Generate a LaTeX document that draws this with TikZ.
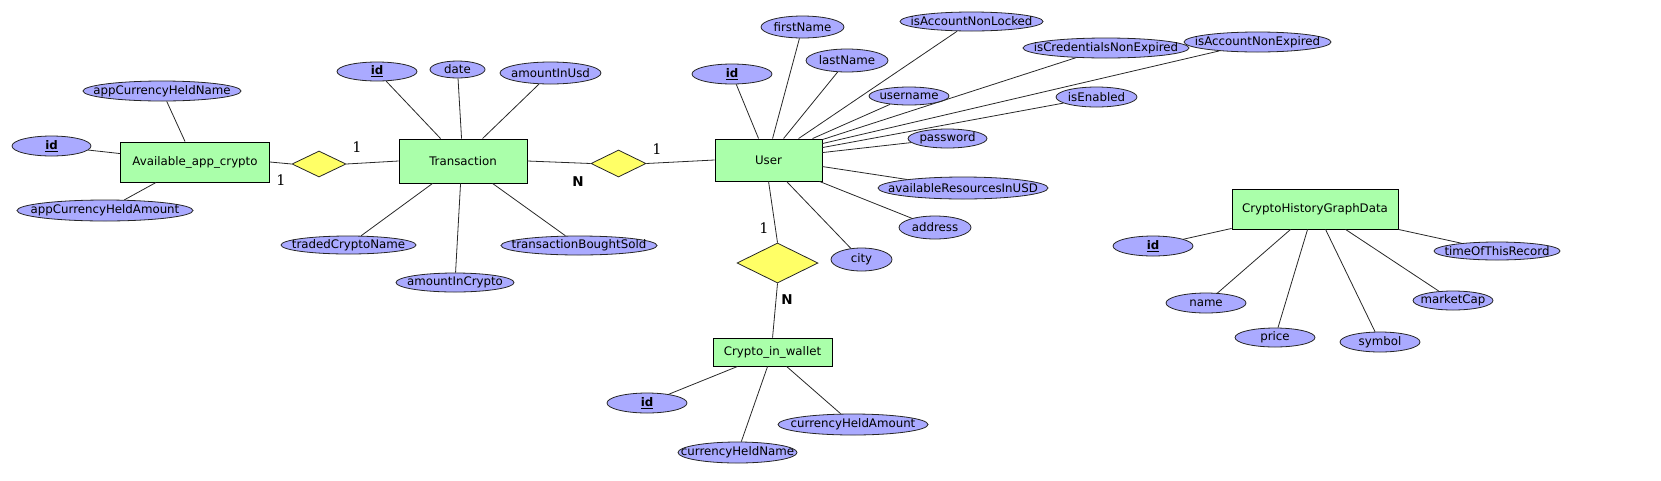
\documentclass[tikz,border=0pt]{standalone}
\usepackage{fontspec}
\newfontfamily\dvs{DejaVu Sans}
\newfontfamily\dvserif{DejaVu Serif}
\usetikzlibrary{shapes.geometric}
\definecolor{attrfill}{RGB}{170,170,255}
\definecolor{entfill}{RGB}{170,255,170}
\definecolor{relfill}{RGB}{255,255,102}
\definecolor{linecol}{RGB}{40,40,40}
\tikzset{
  ent/.style={draw=black, fill=entfill, line width=0.9pt, rectangle, inner sep=0pt,
    font=\dvs\fontsize{11.8}{14}\selectfont},
  attr/.style={draw=black!85, fill=attrfill, line width=0.8pt, ellipse, inner sep=0pt},
  atxt/.style={font=\dvs\fontsize{11.8}{14}\selectfont, inner sep=0pt},
  rel/.style={draw=black!85, fill=relfill, line width=0.8pt, diamond, inner sep=0pt},
  conn/.style={draw=linecol, line width=0.8pt},
  one/.style={font=\dvserif\fontsize{14.5}{17}\selectfont, inner sep=0pt},
  many/.style={font=\dvs\bfseries\fontsize{13.5}{15}\selectfont, inner sep=0pt}
}
\newcommand{\pk}{\underline{\textbf{id}}}
\newcommand{\mkattr}[6]{\node[attr, minimum width=#4pt, minimum height=#5pt] (#1) at (#2,#3) {}; \node[atxt] (#1t) at (#1) {#6};}
\begin{document}
\begin{tikzpicture}[x=1pt, y=-1pt]
\useasboundingbox (0,0) rectangle (1661,480);

% entities
\node[ent, minimum width=149pt, minimum height=40pt] (avail) at (195,162) {Available\_app\_crypto};
\node[ent, minimum width=128pt, minimum height=44pt] (trans) at (463,161) {Transaction};
\node[ent, minimum width=107pt, minimum height=42pt] (user) at (768.5,160) {User};
\node[ent, minimum width=119pt, minimum height=28pt] (wallet) at (772.5,352) {Crypto\_in\_wallet};
\node[ent, minimum width=166pt, minimum height=40pt] (chgd) at (1315,209) {CryptoHistoryGraphData};

% relationships
\node[rel, minimum width=54pt, minimum height=26pt] (d1) at (319,164) {};
\node[rel, minimum width=55pt, minimum height=27pt] (d2) at (618.5,163.5) {};
\node[rel, minimum width=81pt, minimum height=40pt] (d3) at (777.5,263) {};

% attributes of Available_app_crypto
\mkattr{aname}{162}{91}{158}{20}{appCurrencyHeldName}
\mkattr{aid}{51.5}{146}{79}{20}{\pk}
\mkattr{aamt}{105}{210.5}{176}{21}{appCurrencyHeldAmount}

% attributes of Transaction
\mkattr{tid}{377}{71.5}{80}{19}{\pk}
\mkattr{tdate}{457.5}{69.5}{55}{17}{date}
\mkattr{tusd}{550.5}{73}{101}{22}{amountInUsd}
\mkattr{ttraded}{348.5}{245}{135}{18}{tradedCryptoName}
\mkattr{tcrypto}{455}{282.5}{118}{19}{amountInCrypto}
\mkattr{tbs}{579}{245.5}{156}{19}{transactionBoughtSold}

% attributes of User
\mkattr{uid}{732}{74}{80}{20}{\pk}
\mkattr{ufirst}{802.5}{27}{83}{22}{firstName}
\mkattr{ulast}{847}{60.5}{82}{23}{lastName}
\mkattr{ulocked}{971.5}{21.5}{143}{19}{isAccountNonLocked}
\mkattr{uuser}{909}{96}{80}{18}{username}
\mkattr{ucred}{1106}{48}{166}{20}{isCredentialsNonExpired}
\mkattr{uexp}{1257.5}{42}{147}{20}{isAccountNonExpired}
\mkattr{uenabled}{1096.5}{97}{81}{20}{isEnabled}
\mkattr{upass}{947.5}{138.5}{79}{19}{password}
\mkattr{ures}{963}{188}{170}{22}{availableResourcesInUSD}
\mkattr{uaddr}{935}{227.5}{72}{23}{address}
\mkattr{ucity}{861.5}{259.5}{61}{23}{city}

% attributes of Crypto_in_wallet
\mkattr{wid}{647}{403}{80}{20}{\pk}
\mkattr{wamt}{853}{424.5}{150}{21}{currencyHeldAmount}
\mkattr{wname}{737.5}{452.5}{119}{21}{currencyHeldName}

% attributes of CryptoHistoryGraphData
\mkattr{cid}{1153}{246}{80}{20}{\pk}
\mkattr{ctime}{1497}{251}{126}{18}{timeOfThisRecord}
\mkattr{cname}{1206}{303}{80}{20}{name}
\mkattr{cprice}{1275}{337.5}{80}{19}{price}
\mkattr{csymbol}{1380}{342}{80}{20}{symbol}
\mkattr{ccap}{1453}{300.5}{80}{19}{marketCap}

% connectors: relationships
\draw[conn] (avail.east) -- (d1.west);
\draw[conn] (d1.east) -- (trans.west);
\draw[conn] (trans.east) -- (d2.west);
\draw[conn] (d2.east) -- (user.west);
\draw[conn] ([xshift=54pt]user.south west) -- (d3.north);
\draw[conn] (d3.south) -- ([xshift=60pt]wallet.north west);

% connectors: Available_app_crypto
\draw[conn] ([xshift=65pt]avail.north west) -- (aname);
\draw[conn] ([yshift=-12pt]avail.north west) -- (aid);
\draw[conn] ([xshift=36pt]avail.south west) -- (aamt);

% connectors: Transaction
\draw[conn] ([xshift=42pt]trans.north west) -- (tid);
\draw[conn] ([xshift=63pt]trans.north west) -- (tdate);
\draw[conn] ([xshift=84pt]trans.north west) -- (tusd);
\draw[conn] ([xshift=34pt]trans.south west) -- (ttraded);
\draw[conn] ([xshift=62pt]trans.south west) -- (tcrypto);
\draw[conn] ([xshift=94pt]trans.south west) -- (tbs);

% connectors: User
\draw[conn] ([xshift=44pt]user.north west) -- (uid);
\draw[conn] ([xshift=58pt]user.north west) -- (ufirst);
\draw[conn] ([xshift=69pt]user.north west) -- (ulast);
\draw[conn] ([xshift=84pt]user.north west) -- (ulocked);
\draw[conn] ([xshift=98pt]user.north west) -- (uuser);
\draw[conn] ([yshift=-1pt]user.north east) -- (ucred);
\draw[conn] ([yshift=-5pt]user.north east) -- (uexp);
\draw[conn] ([yshift=-9pt]user.north east) -- (uenabled);
\draw[conn] ([yshift=-14pt]user.north east) -- (upass);
\draw[conn] ([yshift=-28pt]user.north east) -- (ures);
\draw[conn] ([xshift=-3pt]user.south east) -- (uaddr);
\draw[conn] ([xshift=72pt]user.south west) -- (ucity);

% connectors: Crypto_in_wallet
\draw[conn] ([xshift=25pt]wallet.south west) -- (wid);
\draw[conn] ([xshift=55pt]wallet.south west) -- (wname);
\draw[conn] ([xshift=74pt]wallet.south west) -- (wamt);

% connectors: CryptoHistoryGraphData
\draw[conn] ([yshift=1pt]chgd.south west) -- (cid);
\draw[conn] ([xshift=59pt]chgd.south west) -- (cname);
\draw[conn] ([xshift=76pt]chgd.south west) -- (cprice);
\draw[conn] ([xshift=94pt]chgd.south west) -- (csymbol);
\draw[conn] ([xshift=114pt]chgd.south west) -- (ccap);
\draw[conn] (chgd.south east) -- (ctime);

% cardinalities
\node[one] (c1) at (357,147) {1};
\node[one] (c2) at (281,180) {1};
\node[one] (c3) at (657,149) {1};
\node[many] (c4) at (578,182) {N};
\node[one] (c5) at (764,228) {1};
\node[many] (c6) at (787,300) {N};
\end{tikzpicture}
\end{document}
